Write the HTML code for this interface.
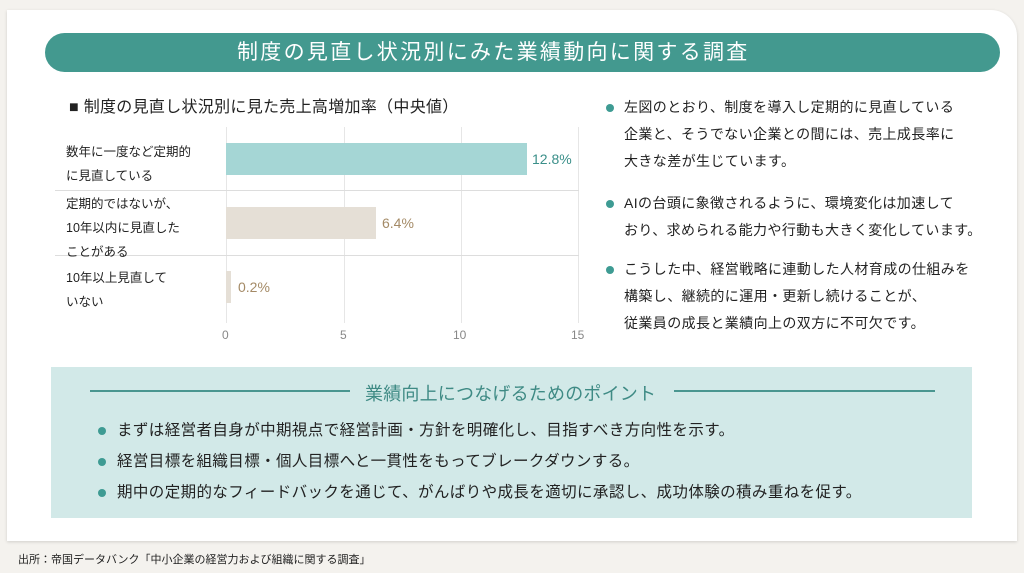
<!DOCTYPE html>
<html><head><meta charset="utf-8"><style>
*{margin:0;padding:0;box-sizing:border-box}
body{width:1024px;height:573px;background:#f4f2ee;position:relative;overflow:hidden;font-family:"Liberation Sans","Noto Sans CJK JP",sans-serif;color:#222}
.a{position:absolute;white-space:nowrap}
.card{position:absolute;left:7px;top:10px;width:1010px;height:531px;background:#fff;border-top-right-radius:26px;box-shadow:0 1px 3px rgba(0,0,0,.15)}
.title{position:absolute;left:45px;top:33px;width:955px;height:39px;background:#43998f;border-radius:20px;color:#fff;font-size:21px;letter-spacing:2.3px;line-height:39px}
.lbl{font-size:12.5px;line-height:24px;color:#222}
.rt{font-size:14px;letter-spacing:.4px;line-height:16px}
.dot{position:absolute;width:8px;height:8px;border-radius:50%;background:#3e9b93}
.bt{font-size:15.5px;line-height:18px;letter-spacing:.4px;color:#222}
.gl{position:absolute;top:127px;width:1px;height:196px;background:#e6e6e6}
.tk{font-size:12px;color:#888;top:328px}
</style></head><body>
<div class="card"></div>
<div class="title"><span class="a" style="left:192px">制度の見直し状況別にみた業績動向に関する調査</span></div>
<div class="a" style="left:69px;top:93px;font-size:16px;letter-spacing:.3px">■ 制度の見直し状況別に見た売上高増加率（中央値）</div>

<div class="gl" style="left:226px"></div>
<div class="gl" style="left:344px"></div>
<div class="gl" style="left:461px"></div>
<div class="gl" style="left:578px"></div>
<div class="a" style="left:55px;top:190px;width:524px;height:1px;background:#ddd"></div>
<div class="a" style="left:55px;top:255px;width:524px;height:1px;background:#ddd"></div>

<div class="a" style="left:226px;top:143px;width:301px;height:32px;background:#a5d6d5"></div>
<div class="a" style="left:532px;top:151px;font-size:14px;color:#3a8f89">12.8%</div>
<div class="a" style="left:226px;top:207px;width:150px;height:32px;background:#e5dfd6"></div>
<div class="a" style="left:382px;top:215px;font-size:14px;color:#a48a66">6.4%</div>
<div class="a" style="left:226px;top:271px;width:5px;height:32px;background:#e5dfd6"></div>
<div class="a" style="left:238px;top:279px;font-size:14px;color:#a48a66">0.2%</div>

<div class="a lbl" style="left:66px;top:140px">数年に一度など定期的<br>に見直している</div>
<div class="a lbl" style="left:66px;top:192px">定期的ではないが、<br>10年以内に見直した<br>ことがある</div>
<div class="a lbl" style="left:66px;top:266px">10年以上見直して<br>いない</div>

<div class="a tk" style="left:222px">0</div>
<div class="a tk" style="left:340px">5</div>
<div class="a tk" style="left:453px">10</div>
<div class="a tk" style="left:571px">15</div>

<div class="dot" style="left:606px;top:104px"></div>
<div class="a rt" style="left:624px;top:99px">左図のとおり、制度を導入し定期的に見直している</div>
<div class="a rt" style="left:624px;top:126px">企業と、そうでない企業との間には、売上成長率に</div>
<div class="a rt" style="left:624px;top:153px">大きな差が生じています。</div>
<div class="dot" style="left:606px;top:200px"></div>
<div class="a rt" style="left:624px;top:195px">AIの台頭に象徴されるように、環境変化は加速して</div>
<div class="a rt" style="left:624px;top:222px">おり、求められる能力や行動も大きく変化しています。</div>
<div class="dot" style="left:606px;top:266px"></div>
<div class="a rt" style="left:624px;top:261px">こうした中、経営戦略に連動した人材育成の仕組みを</div>
<div class="a rt" style="left:624px;top:288px">構築し、継続的に運用・更新し続けることが、</div>
<div class="a rt" style="left:624px;top:315px">従業員の成長と業績向上の双方に不可欠です。</div>

<div class="a" style="left:51px;top:367px;width:921px;height:151px;background:#d2e9e8"></div>
<div class="a" style="left:90px;top:390px;width:260px;height:2px;background:#4a9690"></div>
<div class="a" style="left:674px;top:390px;width:261px;height:2px;background:#4a9690"></div>
<div class="a" style="left:365px;top:380px;font-size:18px;color:#3e8a84;letter-spacing:.2px">業績向上につなげるためのポイント</div>
<div class="dot" style="left:98px;top:427px"></div>
<div class="a bt" style="left:117px;top:422px">まずは経営者自身が中期視点で経営計画・方針を明確化し、目指すべき方向性を示す。</div>
<div class="dot" style="left:98px;top:458px"></div>
<div class="a bt" style="left:117px;top:453px">経営目標を組織目標・個人目標へと一貫性をもってブレークダウンする。</div>
<div class="dot" style="left:98px;top:489px"></div>
<div class="a bt" style="left:117px;top:484px">期中の定期的なフィードバックを通じて、がんばりや成長を適切に承認し、成功体験の積み重ねを促す。</div>

<div class="a" style="left:18px;top:551px;font-size:11px;color:#222">出所：帝国データバンク「中小企業の経営力および組織に関する調査」</div>
</body></html>
